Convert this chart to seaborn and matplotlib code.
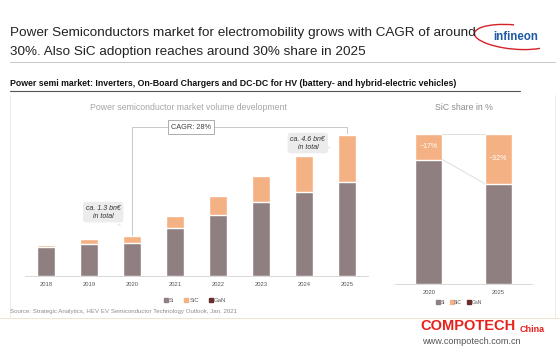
import matplotlib
matplotlib.use("Agg")
import matplotlib.pyplot as plt
import seaborn as sns
import pandas as pd
from matplotlib.lines import Line2D
from matplotlib.patches import Arc

years = ["2018", "2019", "2020", "2021", "2022", "2023", "2024", "2025"]
si_bn = [0.93, 1.04, 1.07, 1.57, 2.00, 2.40, 2.75, 3.05]
sic_bn = [0.07, 0.16, 0.23, 0.40, 0.60, 0.87, 1.15, 1.55]

share_years = ["2020", "2025"]
sic_share = [17, 33]
si_share = [83, 67]
share_labels = ["~17%", "~32%"]

SI = "#8f7f80"
SIC = "#f4b183"
GAN = "#6b2c2c"

sns.set_theme(style="white")
plt.rcParams["font.family"] = ["Liberation Sans", "DejaVu Sans"]

W, H = 560, 350
fig = plt.figure(figsize=(5.6, 3.5), dpi=100)


def fx(x):
    return x / W


def fy(y):
    return 1 - y / H


def hline(x0, x1, y, color, lw=0.8):
    fig.add_artist(Line2D([fx(x0), fx(x1)], [fy(y), fy(y)], color=color, lw=lw,
                          transform=fig.transFigure))


def vline(x, y0, y1, color, lw=0.8):
    fig.add_artist(Line2D([fx(x), fx(x)], [fy(y0), fy(y1)], color=color, lw=lw,
                          transform=fig.transFigure))


# headline
fig.text(fx(10), fy(33), "Power Semiconductors market for electromobility grows with CAGR of around",
         fontsize=9.7, color="#222222", va="center")
fig.text(fx(10), fy(52), "30%. Also SiC adoption reaches around 30% share in 2025",
         fontsize=9.7, color="#222222", va="center")
hline(10, 555, 62, "#c8c8c8", 0.7)
fig.text(fx(10), fy(83), "Power semi market: Inverters, On-Board Chargers and DC-DC for HV (battery- and hybrid-electric vehicles)",
         fontsize=6.3, fontweight="bold", color="#111111", va="center")
hline(10, 520, 91, "#555555", 0.8)

# infineon logo
fig.text(fx(516), fy(37), "infineon", fontsize=8.3, fontweight="bold", color="#1f5aa6",
         ha="center", va="center", bbox=dict(boxstyle="square,pad=0.1", fc="white", ec="none"))
fig.add_artist(Arc((fx(514), fy(37)), fx(80), 24 / H, angle=-10, theta1=100, theta2=335,
                   color="#d4202a", lw=1.0, transform=fig.transFigure))

# panel borders
vline(10, 95, 318, "#f4eadf", 0.7)
hline(0, 560, 318, "#f6e2cf", 0.7)
vline(555, 95, 318, "#f4eadf", 0.7)

# left chart
df = pd.DataFrame({"year": years, "Si": si_bn, "SiC": sic_bn})
df["total"] = df["Si"] + df["SiC"]

ax = fig.add_axes([fx(25), fy(276), fx(343), 156 / H])
sns.barplot(data=df, x="year", y="total", color=SIC, width=0.4, saturation=1, ax=ax)
sns.barplot(data=df, x="year", y="Si", color=SI, width=0.4, saturation=1, ax=ax)
ax.set_xlim(-0.49, 7.49)
ax.set_ylim(0, 5.08)
ax.set_xlabel("")
ax.set_ylabel("")
ax.set_yticks([])
for s in ["top", "right", "left"]:
    ax.spines[s].set_visible(False)
ax.spines["bottom"].set_color("#d9d9d9")
ax.spines["bottom"].set_linewidth(0.7)
ax.tick_params(axis="x", length=0, labelsize=4.2, labelcolor="#595959", pad=4)

fig.text(fx(188), fy(107), "Power semiconductor market volume development", fontsize=6.3,
         color="#a6a6a6", ha="center", va="center")

# CAGR bracket
lvl = 4.85
t20 = df["total"][2]
t25 = df["total"][7]
ax.plot([2, 2, 7, 7], [t20 + 0.03, lvl, lvl, t25 + 0.06], color="#c8c8c8", lw=0.7, clip_on=False)
ax.text(3.37, lvl, "CAGR: 28%", fontsize=5.3, color="#404040", ha="center", va="center",
        bbox=dict(boxstyle="square,pad=0.45", fc="white", ec="#a0a0a0", lw=0.6))

callout = dict(boxstyle="round,pad=0.4", fc="#ececec", ec="none")
wedge = dict(arrowstyle="wedge,tail_width=0.5", fc="#ececec", ec="none")
ax.annotate("ca. 1.3 bn€\nin total", xy=(1.8, 1.55), xytext=(1.33, 2.08), fontsize=5,
            style="italic", color="#333333", ha="center", va="center",
            bbox=callout, arrowprops=wedge, annotation_clip=False)
ax.annotate("ca. 4.6 bn€\nin total", xy=(6.62, 4.17), xytext=(6.09, 4.33), fontsize=5,
            style="italic", color="#333333", ha="center", va="center",
            bbox=callout, arrowprops=wedge, annotation_clip=False)

legend_handles = [
    Line2D([], [], marker="s", ls="none", markersize=2.2, color=SI, label="Si"),
    Line2D([], [], marker="s", ls="none", markersize=2.2, color=SIC, label="SiC"),
    Line2D([], [], marker="s", ls="none", markersize=2.2, color=GAN, label="GaN"),
]
fig.legend(handles=legend_handles, loc="center", bbox_to_anchor=(fx(195), fy(300)), ncol=3,
           frameon=False, fontsize=4.3, handletextpad=0.1, columnspacing=1.6,
           handlelength=0.8, labelcolor="#595959")

fig.text(fx(10), fy(312), "Source: Strategic Analytics, HEV EV Semiconductor Technology Outlook, Jan. 2021",
         fontsize=4.4, color="#8c8c8c", va="center")

# right chart
sf = pd.DataFrame({"year": share_years, "Si": si_share, "SiC": sic_share})
sf["total"] = sf["Si"] + sf["SiC"]
ax2 = fig.add_axes([fx(395), fy(284), fx(137), 150 / H])
sns.barplot(data=sf, x="year", y="total", color=SIC, width=0.39, saturation=1, ax=ax2)
sns.barplot(data=sf, x="year", y="Si", color=SI, width=0.39, saturation=1, ax=ax2)
ax2.set_xlim(-0.486, 1.486)
ax2.set_ylim(0, 100)
ax2.set_xlabel("")
ax2.set_ylabel("")
ax2.set_yticks([])
for s in ["top", "right", "left"]:
    ax2.spines[s].set_visible(False)
ax2.spines["bottom"].set_color("#d9d9d9")
ax2.spines["bottom"].set_linewidth(0.7)
ax2.tick_params(axis="x", length=0, labelsize=4.2, labelcolor="#595959", pad=4)
ax2.plot([0.195, 0.805], [sf["total"][0], sf["total"][1]], color="#dedede", lw=0.7)
ax2.plot([0.195, 0.805], [sf["Si"][0], sf["Si"][1]], color="#dedede", lw=0.7)
for i in range(2):
    ax2.text(i, sf["Si"][i] + sf["SiC"][i] / 2, share_labels[i],
             fontsize=5, color="white", ha="center", va="center")

fig.text(fx(464), fy(107), "SiC share in %", fontsize=6.3, color="#8c8c8c", ha="center", va="center")
fig.legend(handles=legend_handles, loc="center", bbox_to_anchor=(fx(459), fy(302)), ncol=3,
           frameon=False, fontsize=3.6, handletextpad=0.1, columnspacing=0.9,
           handlelength=0.8, labelcolor="#595959")

# watermark
fig.text(fx(420), fy(326), "COMPOTECH", fontsize=10.5, fontweight="bold", color="#e8201c",
         va="center")
fig.text(fx(545), fy(329), "China", fontsize=6.5, fontweight="bold", color="#e8201c",
         va="center", ha="right")
fig.text(fx(422), fy(341), "www.compotech.com.cn", fontsize=6.6, color="#555555", va="center")

fig.savefig("out.png", dpi=100)
